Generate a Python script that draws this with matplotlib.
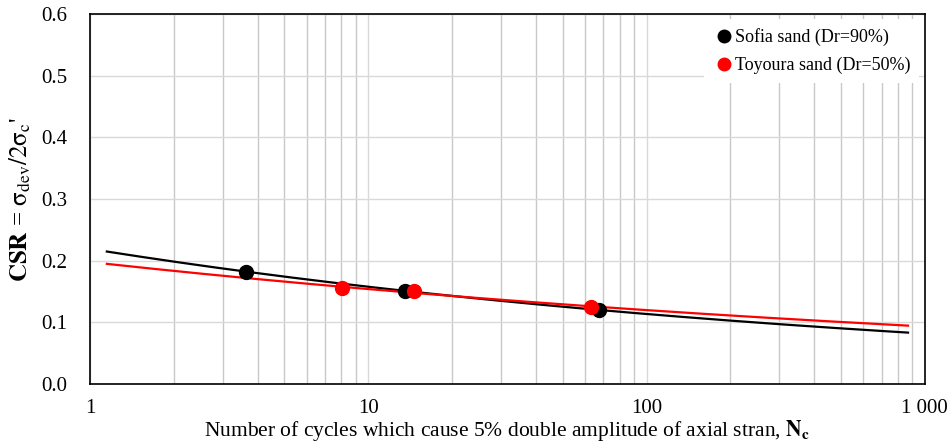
import numpy as np
import matplotlib
matplotlib.use("Agg")
import matplotlib.pyplot as plt
from matplotlib.ticker import FixedLocator, FixedFormatter, NullFormatter

plt.rcParams['font.family'] = ['Liberation Serif', 'DejaVu Serif']
plt.rcParams['mathtext.fontset'] = 'stix'

# data
sofia_n = [3.64, 13.6, 67.2]
sofia_csr = [0.182, 0.151, 0.120]
toyoura_n = [8.06, 14.6, 63.4]
toyoura_csr = [0.155, 0.151, 0.125]
trend_range = [1.15, 870]

x_ticks = [1, 10, 100, 1000]
x_tick_labels = ['1', '10', '100', '1 000']
y_ticks = [0.0, 0.1, 0.2, 0.3, 0.4, 0.5, 0.6]


def power_fit(n, csr):
    # power-law trendline csr = a * n^b, fitted in log space
    b, lna = np.polyfit(np.log(n), np.log(csr), 1)
    xx = np.logspace(np.log10(trend_range[0]), np.log10(trend_range[1]), 200)
    return xx, np.exp(lna) * xx ** b


fig = plt.figure(figsize=(9.52, 4.47), dpi=100)
ax = fig.add_axes([0.0945, 0.141, 0.877, 0.828])

ax.set_xscale('log')
ax.set_xlim(1, 1000)
ax.set_ylim(0, 0.6)

ax.grid(True, which='major', axis='both', color='#d9d9d9', lw=1)
ax.grid(True, which='minor', axis='x', color='#c8c8c8', lw=1)
ax.set_axisbelow(True)

xs, ys = power_fit(sofia_n, sofia_csr)
ax.plot(xs, ys, color='black', lw=1.6, zorder=2)
xt, yt = power_fit(toyoura_n, toyoura_csr)
ax.plot(xt, yt, color='red', lw=1.6, zorder=2)

ax.plot(sofia_n, sofia_csr, 'o', color='black', ms=10, label='Sofia sand (Dr=90%)', zorder=3)
ax.plot(toyoura_n, toyoura_csr, 'o', color='red', ms=10, label='Toyoura sand (Dr=50%)', zorder=3)

ax.xaxis.set_major_locator(FixedLocator(x_ticks))
ax.xaxis.set_major_formatter(FixedFormatter(x_tick_labels))
ax.xaxis.set_minor_formatter(NullFormatter())
ax.set_yticks(y_ticks)
ax.set_yticklabels(['%.1f' % v for v in y_ticks])
ax.tick_params(axis='both', which='both', length=0, labelsize=15)
ax.tick_params(axis='x', pad=11)
ax.tick_params(axis='y', pad=16)

for s in ax.spines.values():
    s.set_color('black')
    s.set_linewidth(1.2)

ax.set_xlabel(r"Number of cycles which cause 5% double amplitude of axial stran, $\mathbf{N_c}$",
              fontsize=15.5, labelpad=0)
ax.set_ylabel(r"$\mathbf{CSR}$ = $\mathrm{\sigma_{dev}/2\sigma_{c}}$'", fontsize=18, labelpad=6)

leg = ax.legend(loc='upper right', fontsize=13, frameon=True, fancybox=False,
                edgecolor='white', framealpha=1, handletextpad=0.0,
                borderaxespad=0.3, labelspacing=0.6, handlelength=1.2,
                borderpad=0.5, markerscale=0.9)
leg.get_frame().set_linewidth(0)

fig.savefig('out.png', dpi=100)
